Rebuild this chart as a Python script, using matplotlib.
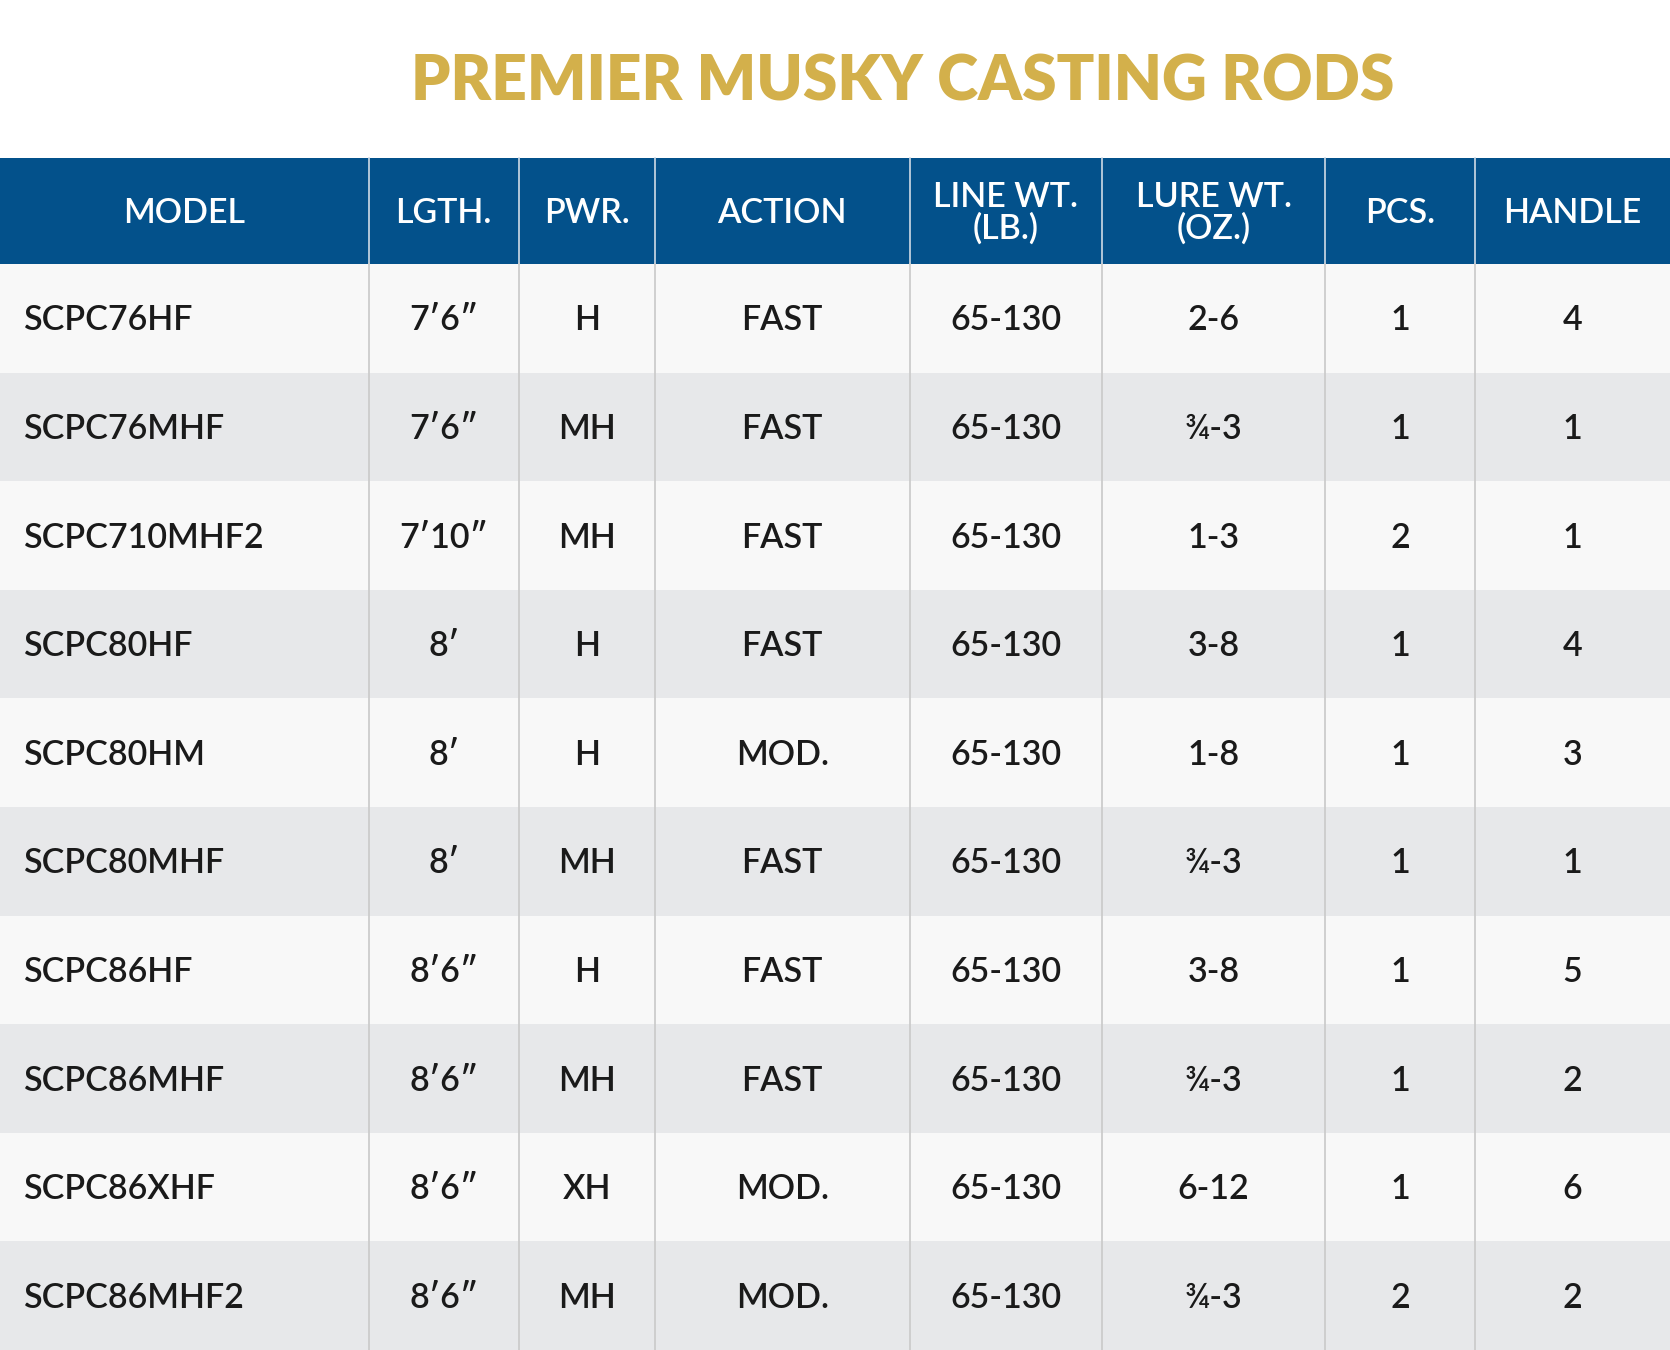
import matplotlib
matplotlib.use("Agg")
import matplotlib.pyplot as plt
from matplotlib.patches import Rectangle

title = "PREMIER MUSKY CASTING RODS"
headers = ["MODEL", "LGTH.", "PWR.", "ACTION", "LINE WT.\n(LB.)", "LURE WT.\n(OZ.)", "PCS.", "HANDLE"]
model = ["SCPC76HF", "SCPC76MHF", "SCPC710MHF2", "SCPC80HF", "SCPC80HM", "SCPC80MHF", "SCPC86HF", "SCPC86MHF", "SCPC86XHF", "SCPC86MHF2"]
length = ["7′6″", "7′6″", "7′10″", "8′", "8′", "8′", "8′6″", "8′6″", "8′6″", "8′6″"]
power = ["H", "MH", "MH", "H", "H", "MH", "H", "MH", "XH", "MH"]
action = ["FAST", "FAST", "FAST", "FAST", "MOD.", "FAST", "FAST", "FAST", "MOD.", "MOD."]
line_wt = ["65-130"] * 10
lure_wt = ["2-6", "¾-3", "1-3", "3-8", "1-8", "¾-3", "3-8", "¾-3", "6-12", "¾-3"]
pcs = ["1", "1", "2", "1", "1", "1", "1", "1", "1", "2"]
handle = ["4", "1", "1", "4", "3", "1", "5", "2", "6", "2"]

cols = [model, length, power, action, line_wt, lure_wt, pcs, handle]
edges = [0, 346, 487, 615, 854, 1035, 1244, 1385, 1568]
W, H = 1568, 1268
hdr_top, hdr_bot = 148, 248
row_h = (H - hdr_bot) / 10

fig = plt.figure(figsize=(16.7, 13.5), dpi=100)
ax = fig.add_axes([0, 0, 1, 1])
ax.set_xlim(0, W); ax.set_ylim(H, 0); ax.axis("off")
fam = ["Lato", "DejaVu Sans"]
s = 1670 / 1568

ax.text(848, 77, title, ha="center", va="center", color="#d3b04b",
        fontsize=42 * s, fontweight="heavy", family=fam)
ax.add_patch(Rectangle((0, hdr_top), W, hdr_bot - hdr_top, color="#03518b", lw=0))
for i in range(10):
    y0 = hdr_bot + i * row_h
    ax.add_patch(Rectangle((0, y0), W, row_h, color="#f8f8f8" if i % 2 == 0 else "#e7e8ea", lw=0))
for x in edges[1:-1]:
    ax.plot([x, x], [hdr_top, hdr_bot], color="#d0dbe6", lw=1.2)
    ax.plot([x, x], [hdr_bot, H], color="#c9c9c9", lw=1.2)

for j, h in enumerate(headers):
    cx = (edges[j] + edges[j + 1]) / 2
    ax.text(cx, (hdr_top + hdr_bot) / 2 + 2, h, ha="center", va="center", color="white",
            fontsize=23 * s, family=fam, fontweight="semibold", linespacing=1.0)
for j, col in enumerate(cols):
    cx = (edges[j] + edges[j + 1]) / 2
    for i, v in enumerate(col):
        cy = hdr_bot + (i + 0.5) * row_h + 2
        kw = dict(va="center", color="#1a1a1a", fontsize=23 * s, family=fam, fontweight="semibold")
        if j == 0:
            ax.text(22, cy, v, ha="left", **kw)
        else:
            ax.text(cx, cy, v, ha="center", **kw)

fig.savefig("out.png", dpi=100)
